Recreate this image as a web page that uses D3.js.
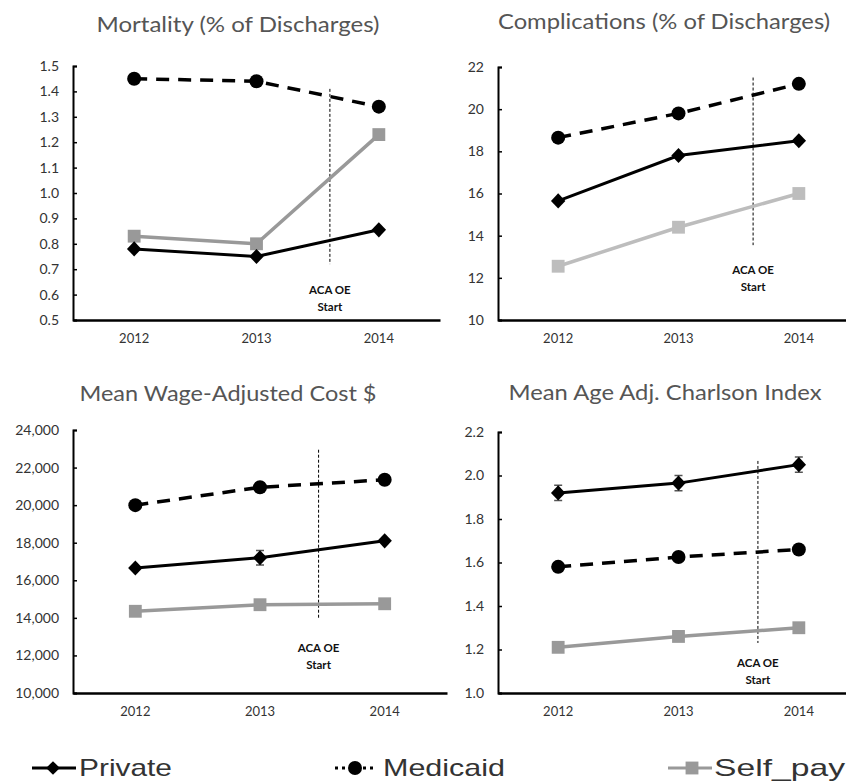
<!DOCTYPE html>
<html>
<head>
<meta charset="utf-8">
<script src="https://cdn.jsdelivr.net/npm/d3@7"></script>
<style>
  body { margin: 0; background: #fff; }
  svg { display: block; }
</style>
</head>
<body>
<div id="chart"></div>
<script>
// data
var years = ["2012", "2013", "2014"]

var mortPrivate = [0.78, 0.75, 0.855],
    mortMedicaid = [1.45, 1.44, 1.34],
    mortSelfPay = [0.83, 0.80, 1.23]

var compPrivate = [15.65, 17.8, 18.5],
    compMedicaid = [18.65, 19.8, 21.2],
    compSelfPay = [12.55, 14.4, 16.0]

var costPrivate = [16650, 17200, 18100],
    costMedicaid = [20000, 20950, 21350],
    costSelfPay = [14350, 14700, 14750],
    costPrivateErr = [0, 380, 0]

var charlPrivate = [1.92, 1.965, 2.05],
    charlMedicaid = [1.58, 1.625, 1.66],
    charlSelfPay = [1.21, 1.26, 1.30],
    charlPrivateErr = [0.035, 0.035, 0.035]

var titles = ["Mortality (% of Discharges)", "Complications (% of Discharges)",
              "Mean Wage-Adjusted Cost $", "Mean Age Adj. Charlson Index"]
var mortTicks = [0.5, 0.6, 0.7, 0.8, 0.9, 1.0, 1.1, 1.2, 1.3, 1.4, 1.5],
    compTicks = [10, 12, 14, 16, 18, 20, 22],
    costTicks = [10000, 12000, 14000, 16000, 18000, 20000, 22000, 24000],
    charlTicks = [1.0, 1.2, 1.4, 1.6, 1.8, 2.0, 2.2]
var legendLabels = ["Private", "Medicaid", "Self_pay"]
var noteLines = ["ACA OE", "Start"]

var W = 846, H = 782

var svg = d3.select("#chart").append("svg")
  .attr("width", W)
  .attr("height", H)

var fontFam = "Lato, 'Open Sans', sans-serif"

var panels = [
  {title: titles[0], tx: 238, ty: 32, tlen: 283, left: 73, right: 440, top: 66, bottom: 320,
   domain: [0.5, 1.5], ticks: mortTicks, fmt: d3.format(".1f"),
   priv: mortPrivate, med: mortMedicaid, self: mortSelfPay, selfColor: "#999",
   vx: 1.6, vy: [1.41, 0.72], ny: -30},
  {title: titles[1], tx: 664, ty: 29, tlen: 332, left: 498, right: 859, top: 67, bottom: 320,
   domain: [10, 22], ticks: compTicks, fmt: d3.format("d"),
   priv: compPrivate, med: compMedicaid, self: compSelfPay, selfColor: "#bdbdbd",
   vx: 1.62, vy: [21.5, 13.55], ny: -50},
  {title: titles[2], tx: 228, ty: 401, tlen: 297, left: 73, right: 447, top: 430, bottom: 693,
   domain: [10000, 24000], ticks: costTicks, fmt: d3.format(","),
   priv: costPrivate, med: costMedicaid, self: costSelfPay, selfColor: "#999",
   err: costPrivateErr, vx: 1.47, vy: [22950, 14000], ny: -45},
  {title: titles[3], tx: 665, ty: 400, tlen: 313, left: 498, right: 859, top: 432, bottom: 693,
   domain: [1.0, 2.2], ticks: charlTicks, fmt: d3.format(".1f"),
   priv: charlPrivate, med: charlMedicaid, self: charlSelfPay, selfColor: "#999",
   err: charlPrivateErr, vx: 1.66, vy: [2.067, 1.23], ny: -30}
]

var diamond = d3.symbol().type(d3.symbolDiamond2).size(120)
var square = d3.symbol().type(d3.symbolSquare).size(165)

panels.forEach(function(p){
  var g = svg.append("g")

  var x = d3.scaleBand()
    .domain(years)
    .range([p.left, p.right])
  var xc = function(i){ return x(years[i]) + x.bandwidth() / 2 }

  var y = d3.scaleLinear()
    .domain(p.domain)
    .range([p.bottom, p.top])

  // title
  g.append("text")
    .attr("x", p.tx)
    .attr("y", p.ty)
    .attr("text-anchor", "middle")
    .attr("textLength", p.tlen)
    .attr("lengthAdjust", "spacingAndGlyphs")
    .attr("font-family", fontFam)
    .attr("font-size", 22)
    .attr("fill", "#555")
    .text(p.title)

  // y axis
  var ya = g.append("g")
    .attr("transform", "translate(" + p.left + ",0)")
    .call(d3.axisLeft(y).tickValues(p.ticks).tickFormat(p.fmt).tickSize(-4).tickPadding(14))
  ya.select(".domain").attr("stroke", "#000").attr("stroke-width", 2)
  ya.selectAll(".tick line").attr("stroke", "#000").attr("stroke-width", 1.5)
  ya.selectAll(".tick text")
    .attr("font-family", fontFam)
    .attr("font-size", 14)
    .attr("fill", "#333")

  // x axis
  var xa = g.append("g")
    .attr("transform", "translate(0," + p.bottom + ")")
    .call(d3.axisBottom(x).tickSize(0).tickPadding(14))
  xa.select(".domain").attr("stroke", "#000").attr("stroke-width", 2.5)
  xa.selectAll(".tick text")
    .attr("font-family", fontFam)
    .attr("font-size", 13)
    .attr("fill", "#333")

  // ACA OE marker line
  var vx = xc(1) + (p.vx - 1) * x.bandwidth()
  g.append("line")
    .attr("x1", vx).attr("x2", vx)
    .attr("y1", y(p.vy[0])).attr("y2", y(p.vy[1]))
    .attr("stroke", "#000")
    .attr("stroke-width", 1)
    .attr("stroke-dasharray", "3,2")

  g.selectAll(".note")
    .data(noteLines)
    .enter().append("text")
    .attr("x", vx)
    .attr("y", function(d, i){ return p.bottom + p.ny + i * 17 + 4 })
    .attr("text-anchor", "middle")
    .attr("font-family", fontFam)
    .attr("font-weight", "bold")
    .attr("font-size", 11.5)
    .attr("fill", "#111")
    .text(function(d){ return d })

  var line = d3.line()
    .x(function(d, i){ return xc(i) })
    .y(function(d){ return y(d) })

  // Self_pay
  g.append("path")
    .attr("d", line(p.self))
    .attr("fill", "none")
    .attr("stroke", p.selfColor)
    .attr("stroke-width", 3.5)
  g.selectAll(".sq")
    .data(p.self)
    .enter().append("path")
    .attr("d", square)
    .attr("transform", function(d, i){ return "translate(" + xc(i) + "," + y(d) + ")" })
    .attr("fill", p.selfColor)

  // Medicaid
  g.append("path")
    .attr("d", line(p.med))
    .attr("fill", "none")
    .attr("stroke", "#000")
    .attr("stroke-width", 3.5)
    .attr("stroke-dasharray", "13,9")
  g.selectAll(".dot")
    .data(p.med)
    .enter().append("circle")
    .attr("cx", function(d, i){ return xc(i) })
    .attr("cy", function(d){ return y(d) })
    .attr("r", 7)
    .attr("fill", "#000")

  // Private
  if(p.err){
    g.selectAll(".err")
      .data(p.priv)
      .enter().append("path")
      .attr("d", function(d, i){
        var cx = xc(i), e = p.err[i]
        if(!e) return null
        var y0 = y(d - e), y1 = y(d + e)
        return "M" + (cx - 4) + "," + y0 + "H" + (cx + 4) + "M" + cx + "," + y0 + "V" + y1 +
               "M" + (cx - 4) + "," + y1 + "H" + (cx + 4)
      })
      .attr("fill", "none")
      .attr("stroke", "#555")
      .attr("stroke-width", 1.5)
  }
  g.append("path")
    .attr("d", line(p.priv))
    .attr("fill", "none")
    .attr("stroke", "#000")
    .attr("stroke-width", 3)
  g.selectAll(".dia")
    .data(p.priv)
    .enter().append("path")
    .attr("d", diamond)
    .attr("transform", function(d, i){ return "translate(" + xc(i) + "," + y(d) + ") scale(1.05,1.1)" })
    .attr("fill", "#000")
})

// legend
var legend = svg.append("g").attr("transform", "translate(0,768)")
var legendX = [{x1: 32, x2: 76, mx: 53, tx: 79, len: 93},
               {x1: 335, x2: 375, mx: 355, tx: 383, len: 122},
               {x1: 668, x2: 712, mx: 692, tx: 714, len: 131}]

legendLabels.forEach(function(name, i){
  var lx = legendX[i]
  legend.append("line")
    .attr("x1", lx.x1).attr("x2", lx.x2)
    .attr("y1", 0).attr("y2", 0)
    .attr("stroke", i == 2 ? "#999" : "#000")
    .attr("stroke-width", 3)
    .attr("stroke-dasharray", i == 1 ? "3,4" : null)
  if(i == 0){
    legend.append("path").attr("d", diamond).attr("transform", "translate(" + lx.mx + ",0)").attr("fill", "#000")
  } else if(i == 1){
    legend.append("circle").attr("cx", lx.mx).attr("cy", 0).attr("r", 7).attr("fill", "#000")
  } else {
    legend.append("path").attr("d", square).attr("transform", "translate(" + lx.mx + ",0)").attr("fill", "#999")
  }
  legend.append("text")
    .attr("x", lx.tx)
    .attr("y", 8)
    .attr("textLength", lx.len)
    .attr("lengthAdjust", "spacingAndGlyphs")
    .attr("font-family", "'Liberation Sans', sans-serif")
    .attr("font-size", 24)
    .attr("fill", "#333")
    .text(name)
})
</script>
</body>
</html>
